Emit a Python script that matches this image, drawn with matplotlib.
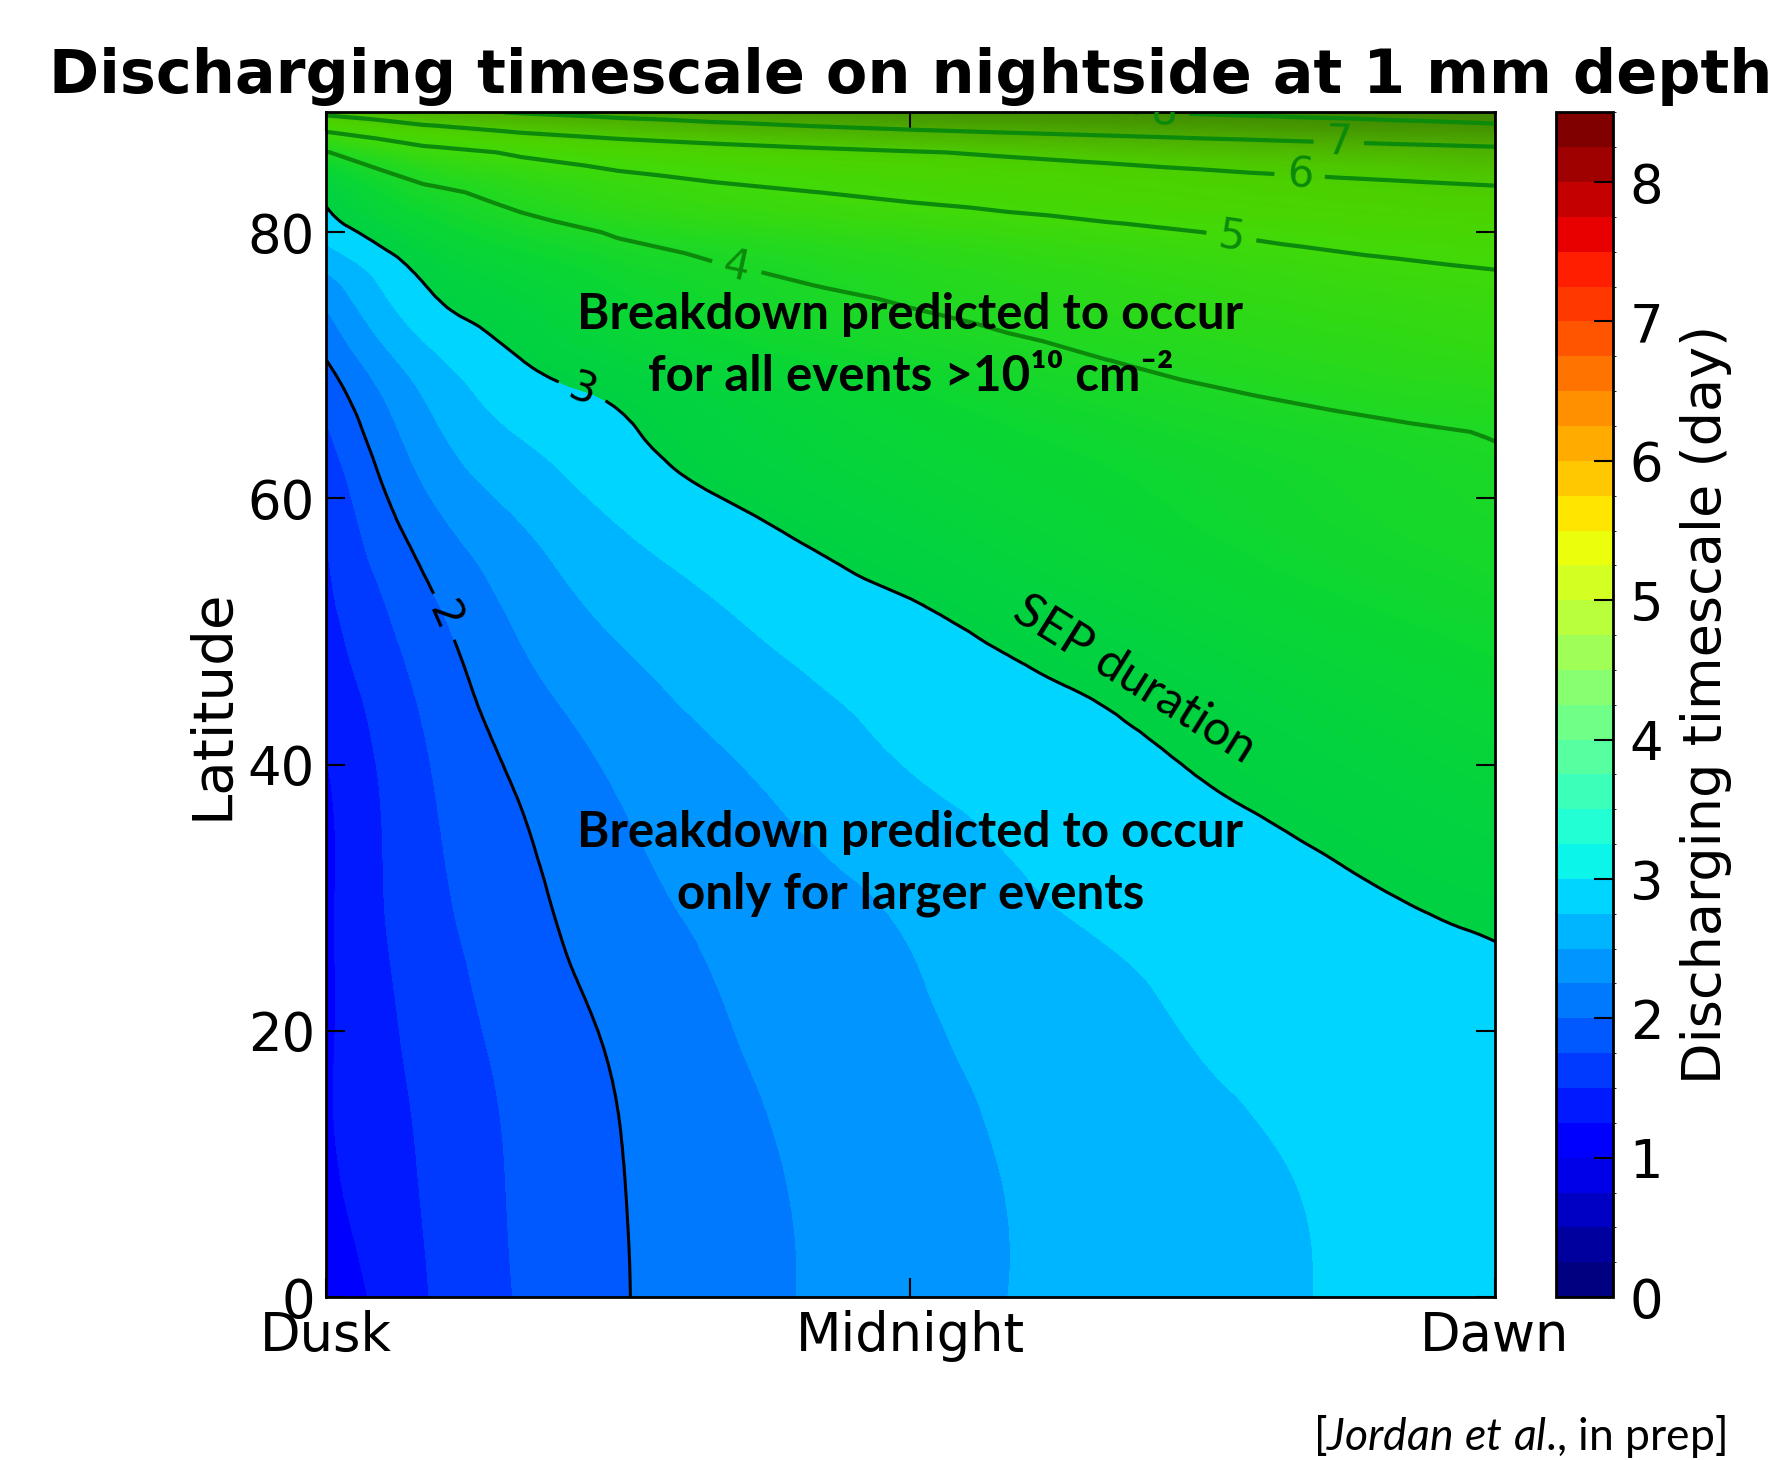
import numpy as np
import matplotlib
matplotlib.use('Agg')
import matplotlib.pyplot as plt
import matplotlib.tri as mtri
from matplotlib.colors import ListedColormap, BoundaryNorm, LinearSegmentedColormap

# local time on the nightside, hours: 18 = dusk, 24 = midnight, 30 = dawn
local_time = np.arange(18, 31, 1)
latitude = np.array([0, 10, 20, 30, 40, 50, 60, 65, 70, 75, 80, 83, 86, 88, 89])

# discharging timescale (day), one row per latitude
tau_lat00 = [1.06, 1.48, 1.77, 1.98, 2.13, 2.27, 2.38, 2.50, 2.58, 2.66, 2.74, 2.81, 2.88]
tau_lat10 = [1.21, 1.52, 1.79, 1.99, 2.15, 2.29, 2.40, 2.51, 2.59, 2.68, 2.76, 2.83, 2.91]
tau_lat20 = [1.21, 1.58, 1.84, 2.04, 2.22, 2.35, 2.46, 2.57, 2.67, 2.77, 2.83, 2.89, 2.95]
tau_lat30 = [1.20, 1.66, 1.93, 2.16, 2.31, 2.43, 2.55, 2.70, 2.80, 2.86, 2.93, 3.00, 3.05]
tau_lat40 = [1.24, 1.72, 2.05, 2.29, 2.46, 2.62, 2.76, 2.85, 2.93, 3.02, 3.11, 3.20, 3.30]
tau_lat50 = [1.42, 1.88, 2.27, 2.52, 2.69, 2.83, 2.93, 3.05, 3.16, 3.28, 3.40, 3.51, 3.62]
tau_lat60 = [1.55, 2.21, 2.57, 2.82, 2.99, 3.13, 3.26, 3.38, 3.49, 3.60, 3.70, 3.79, 3.88]
tau_lat65 = [1.72, 2.40, 2.77, 2.96, 3.13, 3.28, 3.41, 3.53, 3.64, 3.75, 3.85, 3.94, 4.02]
tau_lat70 = [1.97, 2.63, 2.98, 3.17, 3.35, 3.52, 3.68, 3.83, 3.97, 4.10, 4.21, 4.31, 4.40]
tau_lat75 = [2.30, 2.94, 3.21, 3.50, 3.72, 3.90, 4.05, 4.18, 4.30, 4.41, 4.52, 4.62, 4.72]
tau_lat80 = [2.85, 3.35, 3.76, 4.05, 4.23, 4.39, 4.55, 4.71, 4.86, 5.00, 5.13, 5.25, 5.36]
tau_lat83 = [3.10, 3.82, 4.24, 4.56, 4.80, 4.99, 5.15, 5.28, 5.40, 5.52, 5.63, 5.74, 5.85]
tau_lat86 = [3.97, 4.70, 5.10, 5.38, 5.60, 5.79, 5.95, 6.09, 6.22, 6.36, 6.50, 6.63, 6.75]
tau_lat88 = [5.30, 5.95, 6.32, 6.60, 6.83, 7.02, 7.18, 7.32, 7.45, 7.58, 7.70, 7.82, 7.93]
tau_lat89 = [6.20, 6.75, 7.05, 7.28, 7.46, 7.61, 7.74, 7.86, 7.97, 8.07, 8.17, 8.26, 8.35]

tau = np.array([tau_lat00, tau_lat10, tau_lat20, tau_lat30, tau_lat40, tau_lat50,
                tau_lat60, tau_lat65, tau_lat70, tau_lat75, tau_lat80, tau_lat83,
                tau_lat86, tau_lat88, tau_lat89])

sep_duration = 3  # days
tick_names = ['Dusk', 'Midnight', 'Dawn']

# grid triangulation with every cell split along the same diagonal
ny, nx = tau.shape
idx = np.arange(ny * nx).reshape(ny, nx)
a, b = idx[:-1, :-1].ravel(), idx[:-1, 1:].ravel()
c, d = idx[1:, 1:].ravel(), idx[1:, :-1].ravel()
cells = np.vstack([np.column_stack([a, b, c]), np.column_stack([a, c, d])])
T, L = np.meshgrid(local_time, latitude)
tri = mtri.Triangulation(T.ravel(), L.ravel(), cells)

# smoother field for the bands: refine with the hour axis stretched
stretch = 89 / 12
tri_s = mtri.Triangulation(T.ravel() * stretch, L.ravel(), cells)
tri_f, tau_fine = mtri.UniformTriRefiner(tri_s).refine_field(tau.ravel(), subdiv=3)
tri_fine = mtri.Triangulation(tri_f.x / stretch, tri_f.y, tri_f.triangles)

fig = plt.figure(figsize=(17.81, 14.60), dpi=100)
ax = fig.add_axes([0.1830, 0.1116, 0.6563, 0.8114])
cax = fig.add_axes([0.8737, 0.1116, 0.0320, 0.8114])

# jet in 0.25 day steps for the whole field
levels = np.arange(0, 8.75, 0.25)
jet34 = ListedColormap(plt.get_cmap('jet')(np.linspace(0, 1, len(levels) - 1)))
norm = BoundaryNorm(levels, jet34.N)
cf = ax.tricontourf(tri_fine, tau_fine, levels=levels, cmap=jet34, norm=norm,
                    antialiased=False)

# region above SEP duration painted in smooth greens
greens = LinearSegmentedColormap.from_list('greens_sep', [
    (0.00, (0.00, 0.82, 0.26)),
    (0.09, (0.04, 0.84, 0.20)),
    (0.18, (0.12, 0.85, 0.14)),
    (0.27, (0.20, 0.85, 0.07)),
    (0.36, (0.26, 0.85, 0.03)),
    (0.45, (0.29, 0.83, 0.00)),
    (0.54, (0.30, 0.79, 0.00)),
    (0.71, (0.30, 0.68, 0.00)),
    (0.89, (0.26, 0.56, 0.00)),
    (1.00, (0.24, 0.50, 0.00))])
green_levels = np.linspace(sep_duration, 8.6, 113)
ax.tricontourf(tri_fine, tau_fine, levels=green_levels, cmap=greens,
               antialiased=False)

cs_black = ax.tricontour(tri_fine, tau_fine, levels=[2, sep_duration],
                         colors='k', linewidths=2.2)
ax.clabel(cs_black, fmt='%d', fontsize=30, inline_spacing=12,
          manual=[(19.14, 50.9), (20.6, 67.4)])

cs_green = ax.tricontour(tri, tau.ravel(), levels=[4, 5, 6, 7, 8],
                         colors='#0b8a0b', linewidths=3)
ax.clabel(cs_green, fmt='%d', fontsize=30, inline_spacing=12,
          manual=[(22.2, 76.8), (27.3, 79.9), (28.0, 84.8), (28.4, 87.2), (26.6, 88.6)])

lato = ['Lato', 'DejaVu Sans']
ax.text(24, 71.5, 'Breakdown predicted to occur\nfor all events >10¹⁰ cm⁻²',
        ha='center', va='center', fontsize=35.5, fontweight='bold', family=lato,
        linespacing=1.45)
ax.text(24, 32.6, 'Breakdown predicted to occur\nonly for larger events',
        ha='center', va='center', fontsize=35.5, fontweight='bold', family=lato,
        linespacing=1.45)
ax.text(26.3, 46.4, 'SEP duration', ha='center', va='center', fontsize=35,
        rotation=-32, family=lato)

ax.set_xlim(18, 30)
ax.set_ylim(0, 89)
ax.set_xticks([18, 24, 30])
ax.set_xticklabels(tick_names)
ax.set_yticks([0, 20, 40, 60, 80])
ax.tick_params(direction='in', length=14, width=1.5, labelsize=38,
               top=True, right=True)
ax.tick_params(axis='x', pad=9)
ax.tick_params(axis='y', pad=8)
ax.set_ylabel('Latitude', fontsize=40.5, labelpad=6)
for sp in ax.spines.values():
    sp.set_linewidth(2)
ax.set_title('Discharging timescale on nightside at 1 mm depth', fontsize=43.5,
             fontweight='bold', pad=14)

cb = fig.colorbar(cf, cax=cax, ticks=range(0, 9))
cb.ax.tick_params(labelsize=38, direction='in', length=14, width=1.5, pad=12)
cb.set_label('Discharging timescale (day)', fontsize=39, labelpad=12)
cb.outline.set_linewidth(2)

plt.rcParams['mathtext.fontset'] = 'custom'
plt.rcParams['mathtext.rm'] = 'Lato'
plt.rcParams['mathtext.it'] = 'Lato:italic'
fig.text(0.969, 0.016, r'[$\mathit{Jordan\ et\ al}$., in prep]', ha='right',
         va='center', fontsize=32, family='Lato')

plt.savefig('out.png', dpi=100)
print('---> Written out.png')
